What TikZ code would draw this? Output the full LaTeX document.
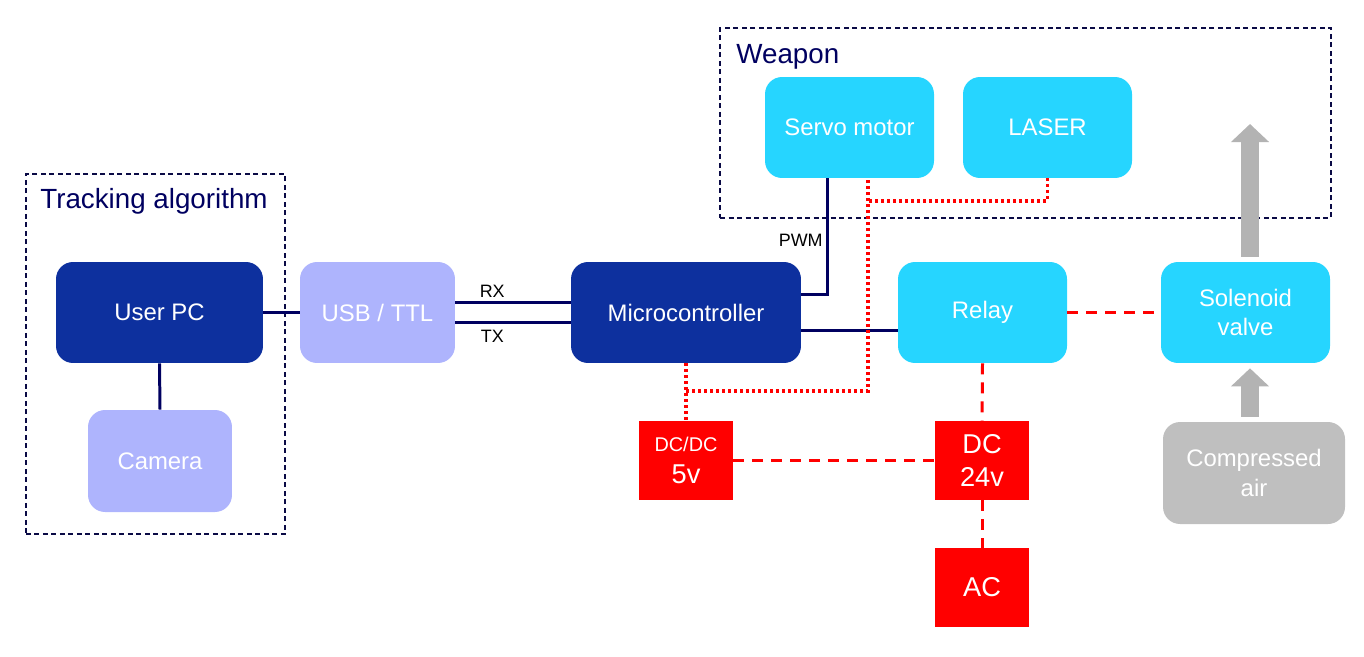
\documentclass[tikz,border=0pt]{standalone}
\usepackage{fontspec}
\setmainfont{Liberation Sans}
\usepackage{xcolor}
\usepackage{tikz}
\usetikzlibrary{positioning,arrows.meta,fit,calc}
\definecolor{hostBlue}{HTML}{0D309E}
\definecolor{auxLavender}{HTML}{AEB4FD}
\definecolor{actCyan}{HTML}{26D5FF}
\definecolor{airGray}{HTML}{BFBFBF}
\definecolor{flowGray}{HTML}{B3B3B3}
\definecolor{pwrRed}{HTML}{FF0000}
\definecolor{lineNavy}{HTML}{000060}
\definecolor{frameNavy}{HTML}{0A0A45}

\begin{document}
\begin{tikzpicture}[
    x=0.02cm, y=-0.02cm,
    box/.style={rounded corners=0.34cm, text=white, align=center, inner sep=0pt,
      minimum height=2.02cm, font=\fontsize{13.6}{17}\selectfont},
    hostbox/.style={box, fill=hostBlue},
    auxbox/.style={box, fill=auxLavender},
    actbox/.style={box, fill=actCyan, minimum width=3.38cm},
    psu/.style={fill=pwrRed, text=white, align=center, inner sep=0pt,
      minimum width=1.88cm, minimum height=1.58cm, font=\fontsize{15.5}{18.7}\selectfont},
    sig/.style={draw=lineNavy, line width=1.7pt},
    power/.style={draw=pwrRed, line width=1.8pt, dash pattern=on 0.06cm off 0.06cm},
    mains/.style={draw=pwrRed, line width=1.7pt, dash pattern=on 0.22cm off 0.16cm},
    airflow/.style={draw=flowGray, line width=0.36cm, -{Triangle[width=0.74cm, length=0.36cm]}},
    groupbox/.style={draw=frameNavy, line width=1.1pt, dash pattern=on 0.1cm off 0.07cm, inner sep=0pt},
    grouptitle/.style={text=lineNavy, inner sep=0pt, font=\fontsize{15.8}{19}\selectfont},
    lbl/.style={inner sep=0pt, font=\fontsize{10.2}{12}\selectfont},
  ]
  \useasboundingbox (0,0) rectangle (1364,656);

  % Groups
  \node[groupbox, fit={(26,174) (285,534)}] (trackbox) {};
  \node[grouptitle, anchor=base west] (tracktitle) at (40,208) {Tracking algorithm};
  \node[groupbox, fit={(720,28) (1331,218)}] (weaponbox) {};
  \node[grouptitle, anchor=base west] (weapontitle) at (736,63) {Weapon};

  % PC side
  \node[hostbox, minimum width=4.14cm] (user) at (159.5,312.5) {User PC};
  \node[auxbox, minimum width=2.88cm, minimum height=2.04cm] (cam) at (160,461) {Camera};
  \node[auxbox, minimum width=3.1cm] (usb) at (377.5,312.5) {USB / TTL};
  \node[hostbox, minimum width=4.6cm] (micro) at (686,312.5) {Microcontroller};

  % Actuators
  \node[actbox] (servo) at (849.5,127.5) {Servo motor};
  \node[actbox] (laser) at (1047.5,127.5) {LASER};
  \node[actbox] (relay) at (982.5,312.5) {Relay};
  \node[actbox] (sol) at (1245.5,312.5) {Solenoid\\valve};
  \node[box, fill=airGray, minimum width=3.64cm, minimum height=2.04cm] (comp) at (1254,473) {Compressed\\air};

  % Power supplies
  \node[psu] (dcdc) at (686,460.5) {{\fontsize{11.3}{13}\selectfont DC/DC}\\5v};
  \node[psu] (dc24) at (982,460.5) {DC\\24v};
  \node[psu] (ac) at (982,587.5) {AC};

  % Signal lines
  \draw[sig] (user.east) -- (usb.west);
  \draw[sig] (user.south) -- (cam.north);
  \draw[sig] ($(usb.east)+(0,-10)$) -- ($(micro.west)+(0,-10)$)
    node[lbl, pos=0.32, above=0.08cm] (rxlbl) {RX};
  \draw[sig] ($(usb.east)+(0,10)$) -- ($(micro.west)+(0,10)$)
    node[lbl, pos=0.32, below=0.12cm] (txlbl) {TX};
  \coordinate (pwmin) at (827,178);
  \draw[sig] ($(micro.east)+(0,-18)$) -| (pwmin);
  \node[lbl, anchor=east] (pwmlbl) at (823,240) {PWM};
  \draw[sig] ($(micro.east)+(0,18)$) -- ($(relay.west)+(0,18)$);

  % Low voltage supply
  \coordinate (tap) at (686,391);
  \coordinate (srvpwr) at (868,178);
  \coordinate (lasjoin) at (868,201);
  \draw[power] (micro.south) -- (dcdc.north);
  \draw[power] (tap) -| (srvpwr);
  \draw[power] (laser.south) |- (lasjoin);

  % Mains / 24v
  \draw[mains] (relay.east) -- (sol.west);
  \draw[mains] (relay.south) -- (dc24.north);
  \draw[mains] (dcdc.east) -- (dc24.west);
  \draw[mains] (dc24.south) -- (ac.north);

  % Air
  \coordinate (airup) at (1250,124);
  \draw[airflow, shorten <=0.1cm, shorten >=0.1cm] (airup |- comp.north) -- (airup |- sol.south);
  \draw[airflow, shorten <=0.1cm] (airup |- sol.north) -- (airup);
\end{tikzpicture}
\end{document}
